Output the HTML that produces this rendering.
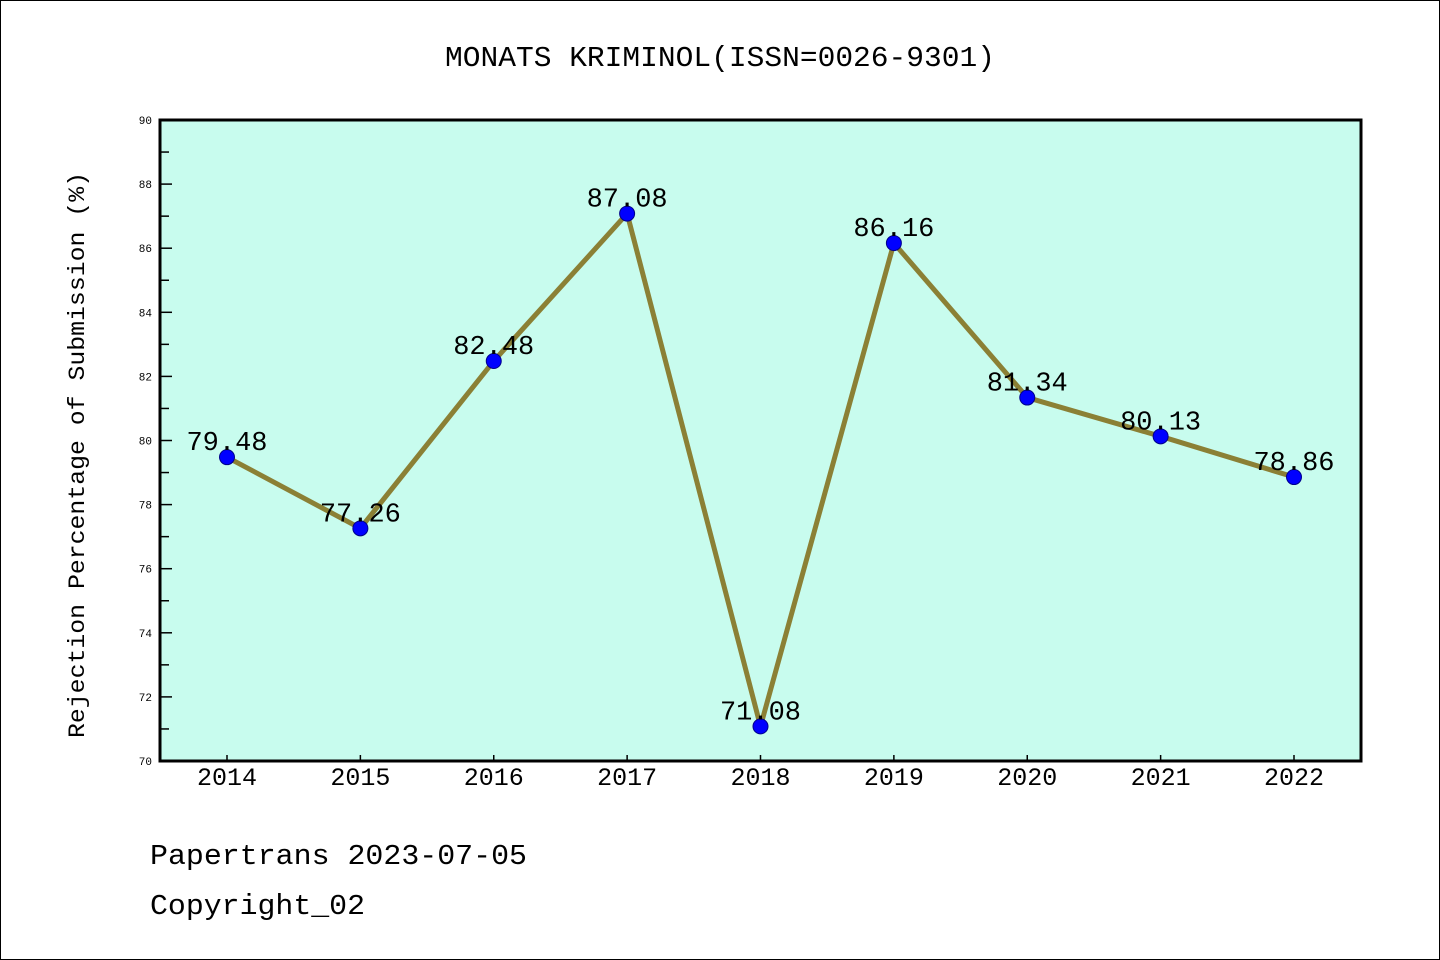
<!DOCTYPE html>
<html><head><meta charset="utf-8"><style>
body{margin:0;background:#fff}
svg{display:block}
text{font-family:"Liberation Mono","DejaVu Sans Mono",monospace}
</style></head><body>
<svg id="chart" width="1440" height="960" xmlns="http://www.w3.org/2000/svg">
<rect x="0.5" y="0.5" width="1439" height="959" fill="#fff" stroke="#000"/>
<text x="445" y="66" font-size="29" textLength="550" lengthAdjust="spacingAndGlyphs">MONATS KRIMINOL(ISSN=0026-9301)</text>
<rect x="160" y="120" width="1201" height="641" fill="#c8fcee"/>
<g id="axes"></g>
<g id="series"></g>
<rect x="160" y="120" width="1201" height="641" fill="none" stroke="#000" stroke-width="3"/>
<text transform="translate(84,738) rotate(-90)" font-size="23" textLength="566" lengthAdjust="spacingAndGlyphs">Rejection Percentage of Submission (%)</text>
<text x="150" y="864" font-size="29" textLength="377" lengthAdjust="spacingAndGlyphs">Papertrans 2023-07-05</text>
<text x="150" y="914" font-size="29" textLength="215" lengthAdjust="spacingAndGlyphs">Copyright_02</text>
</svg>
<script>
const categories=["2014","2015","2016","2017","2018","2019","2020","2021","2022"];
const values=[79.48,77.26,82.48,87.08,71.08,86.16,81.34,80.13,78.86];
const yTicks=[70,72,74,76,78,80,82,84,86,88,90];
const NS="http://www.w3.org/2000/svg";
const x0=227,x1=1294,yMin=70,yMax=90,py0=761,py1=120;
const xs=i=>x0+(x1-x0)*i/(categories.length-1);
const ys=v=>py0-(v-yMin)/(yMax-yMin)*(py0-py1);
function mk(t,a,p){const e=document.createElementNS(NS,t);for(const k in a)e.setAttribute(k,a[k]);p.appendChild(e);return e;}
const ax=document.getElementById('axes'),se=document.getElementById('series');
yTicks.forEach((v,i)=>{
 const l=mk('line',{x1:160,x2:172,y1:ys(v),y2:ys(v),stroke:'#000','stroke-width':1.5},ax);
 
 
 const t=mk('text',{x:152,y:ys(v)+4,'text-anchor':'end','font-size':11,'font-family':'Liberation Sans'},ax);
 t.textContent=v;
 
 
 if(i<yTicks.length-1){
  const m=(v+yTicks[i+1])/2;
  const ml=mk('line',{x1:160,x2:169,y1:ys(m),y2:ys(m),stroke:'#000','stroke-width':1.5},ax);
  
  
 }
});
categories.forEach((c,i)=>{
 const l=mk('line',{x1:xs(i),x2:xs(i),y1:761,y2:755,stroke:'#000','stroke-width':1.5},ax);
 
 
 const t=mk('text',{x:xs(i),y:785,'text-anchor':'middle','font-size':25,'font-family':'Liberation Sans'},ax);
 t.textContent=c;
 
 
});
const pl=mk('polyline',{points:values.map((v,i)=>xs(i)+','+ys(v)).join(' '),fill:'none',stroke:'#8b8035','stroke-width':5,'stroke-linejoin':'round'},se);


values.forEach((v,i)=>{
 const c=mk('circle',{cx:xs(i),cy:ys(v),r:7.5,fill:'#0000ff',stroke:'#00008b','stroke-width':1},se);
 
 
 const t=mk('text',{x:xs(i),y:ys(v)-7,'text-anchor':'middle','font-size':27},se);
 t.textContent=v.toFixed(2);
 
 
});
</script>
</body></html>
